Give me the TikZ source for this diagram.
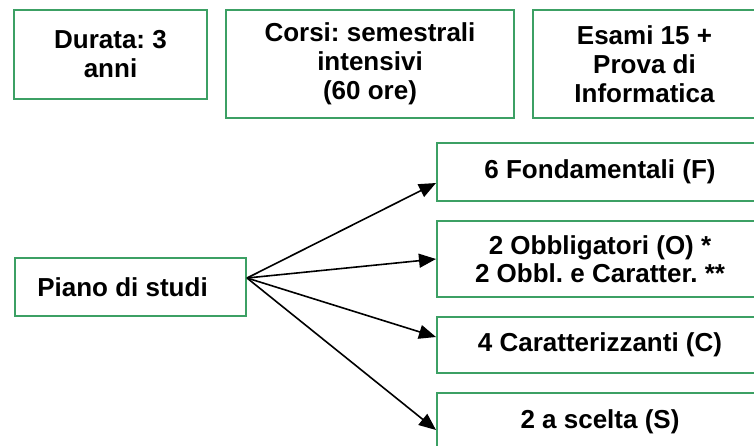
\documentclass[tikz,border=0pt]{standalone}
\usepackage{fontspec}
\setmainfont{Liberation Sans}
\usetikzlibrary{arrows.meta,calc}
\definecolor{boxgreen}{RGB}{60,160,100}
\frenchspacing
\begin{document}
\begin{tikzpicture}[x=1pt,y=-1pt,
  box/.style={draw=boxgreen,line width=2pt,rectangle,inner sep=0pt},
  toptext/.style={font=\bfseries\fontsize{26}{29}\selectfont,align=center},
  bottext/.style={font=\bfseries\fontsize{26}{28}\selectfont,align=center},
  arr/.style={line width=1.6pt,-{Triangle[length=17pt,width=14pt]}}]
\useasboundingbox (0,0) rectangle (754,445);
\clip (0,0) rectangle (754,445);

\node[box,toptext,minimum width=193pt,minimum height=89pt] (durata) at (110.5,54.5) {Durata: 3\\anni};
\node[box,toptext,minimum width=288pt,minimum height=108pt] (corsi) at (370,64) {Corsi: semestrali\\intensivi\\(60 ore)};
\node[box,toptext,minimum width=223pt,minimum height=108pt] (esami) at (644.5,64) {Esami 15 +\\Prova di\\Informatica};

\node[box,bottext,minimum width=231pt,minimum height=58pt] (piano) at (130.5,287) {Piano di studi\hspace{16pt}};

\node[box,bottext,minimum width=326pt,minimum height=58pt] (fond) at (600,172) {6 Fondamentali (F)};
\node[box,bottext,minimum width=326pt,minimum height=76pt] (obbl) at (600,259) {2 Obbligatori (O) *\\2 Obbl. e Caratter. **};
\node[box,bottext,minimum width=326pt,minimum height=56pt] (carat) at (600,345) {4 Caratterizzanti (C)};
\node[box,bottext,minimum width=326pt,minimum height=58pt] (scelta) at (600,422) {2 a scelta (S)};

\coordinate (src) at ($(piano.east)+(0,-9)$);
\draw[arr] (src) -- ($(fond.west)+(0,11)$);
\draw[arr] (src) -- (obbl.west);
\draw[arr] (src) -- ($(carat.west)+(0,-8)$);
\draw[arr] (src) -- ($(scelta.west)+(0,8)$);
\end{tikzpicture}
\end{document}
